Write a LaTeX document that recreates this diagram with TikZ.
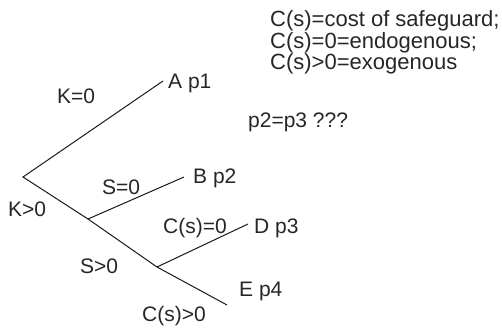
\documentclass[tikz,border=0pt]{standalone}
\usepackage{fontspec}
\setmainfont{Liberation Sans}
\begin{document}
\begin{tikzpicture}[x=1pt,y=-1pt,
  lbl/.style={anchor=base west,inner sep=0pt,font=\fontsize{21}{22}\selectfont,text=black!85},
  note/.style={lbl,font=\fontsize{22}{22}\selectfont},
  edge/.style={draw=black!90,line width=1pt}]
\useasboundingbox (0,0) rectangle (502,327);
\coordinate (root) at (23,177);
\coordinate (a) at (163,81);
\coordinate (n1) at (88,219);
\coordinate (b) at (184,177);
\coordinate (n2) at (157,267);
\coordinate (d) at (248,224);
\coordinate (e) at (227,305);
\draw[edge] (a) -- (root) -- (n1) -- (n2) -- (e);
\draw[edge] (n1) -- (b);
\draw[edge] (n2) -- (d);
\node[lbl] (la) at (168,88) {A p1};
\node[lbl] (lk0) at (57,103) {K=0};
\node[lbl] (lb) at (193,183) {B p2};
\node[lbl] (ls0) at (102,194) {S=0};
\node[lbl] (lk1) at (8,216) {K>0};
\node[lbl] (lc0) at (163,233) {C(s)=0};
\node[lbl] (ld) at (254,233) {D p3};
\node[lbl] (ls1) at (80,273) {S>0};
\node[lbl] (le) at (239,296) {E p4};
\node[lbl] (lc1) at (142,321) {C(s)>0};
\node[lbl] (q) at (248,127) {p2=p3 ???};
\node[note] (t1) at (270,26) {C(s)=cost of safeguard;};
\node[note] (t2) at (270,48) {C(s)=0=endogenous;};
\node[note] (t3) at (270,69) {C(s)>0=exogenous};
\end{tikzpicture}
\end{document}
